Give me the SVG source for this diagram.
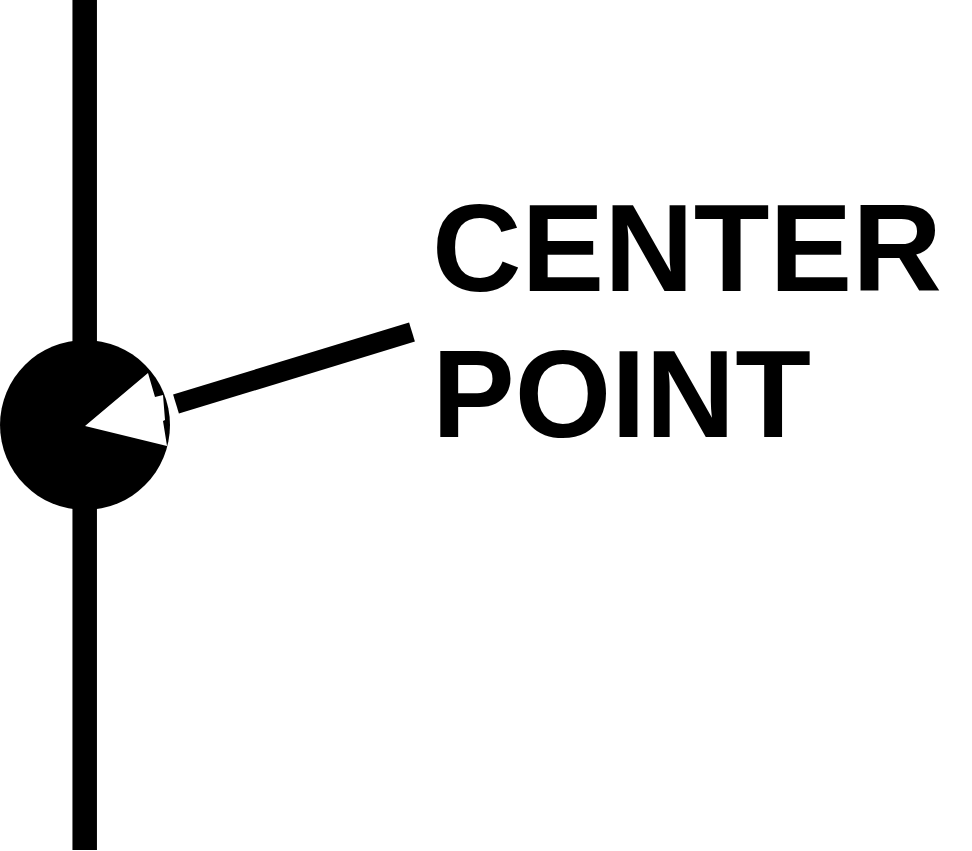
<svg xmlns="http://www.w3.org/2000/svg" width="972" height="851" viewBox="0 0 972 851">
<style>
.lbl{font-family:"Liberation Sans",Arial,sans-serif;font-weight:bold;font-size:124px;fill:#000}
</style>
<rect width="972" height="851" fill="#fff"/>
<g id="axis">
<line x1="84.7" y1="0" x2="84.7" y2="850" stroke="#000" stroke-width="24.5"/>
</g>
<g id="center-point">
<circle cx="85" cy="425" r="85" fill="#000"/>
</g>
<g id="connectors">
<line x1="176" y1="404" x2="412" y2="332" stroke="#000" stroke-width="20"/>
<polygon points="85,426 148,373 155,397 163,395 165,420 163,421 167,446" fill="#fff"/>
</g>
<g id="label">
<text class="lbl" x="432" y="291">CENTER</text>
<text class="lbl" x="432" y="437">POINT</text>
</g>
</svg>
